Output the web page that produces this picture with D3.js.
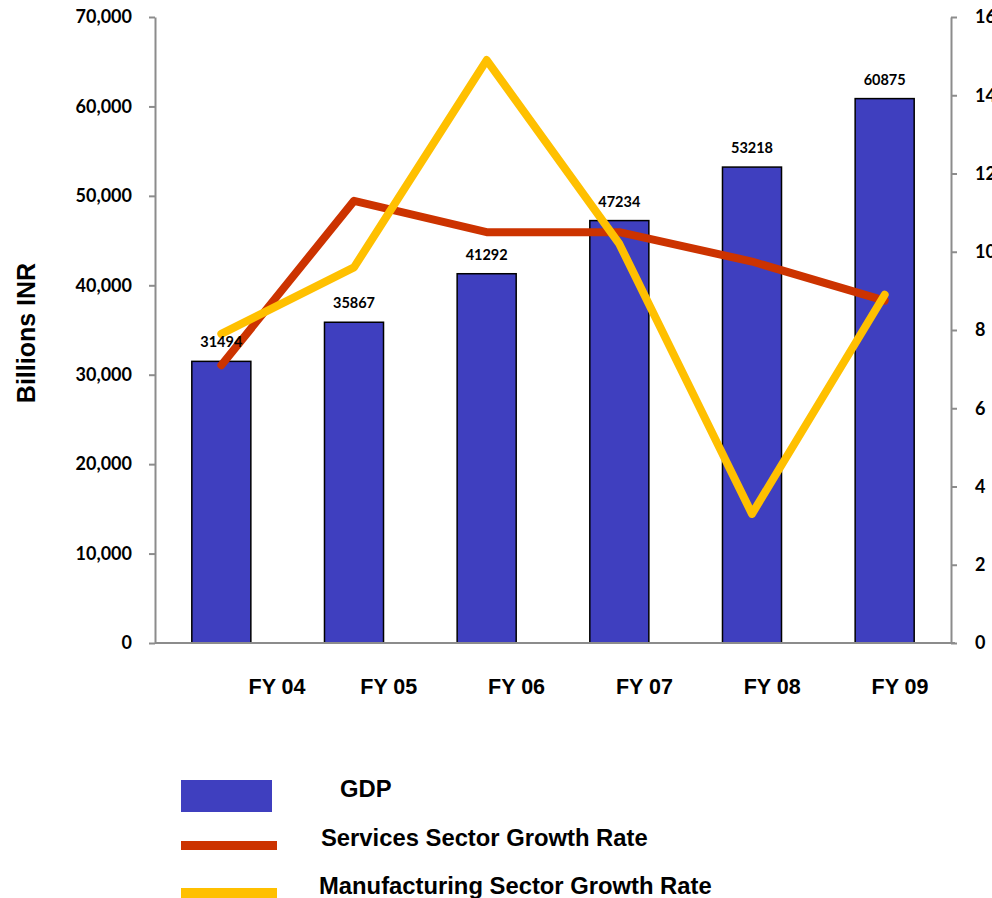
<!DOCTYPE html>
<html>
<head>
<meta charset="utf-8">
<script src="https://cdn.jsdelivr.net/npm/d3@7"></script>
<style>
  html, body { margin: 0; padding: 0; background: #fff; }
  svg { display: block; }
</style>
</head>
<body>
<svg id="chart" width="992" height="898"></svg>
<script>
const categories = ["FY 04", "FY 05", "FY 06", "FY 07", "FY 08", "FY 09"];
const gdp = [31494, 35867, 41292, 47234, 53218, 60875];
const services = [7.1, 11.3, 10.5, 10.5, 9.75, 8.75];
const manufacturing = [7.9, 9.6, 14.9, 10.2, 3.3, 8.9];
const leftTicks = [0, 10000, 20000, 30000, 40000, 50000, 60000, 70000];
const rightTicks = [0, 2, 4, 6, 8, 10, 12, 14, 16];
const legendItems = ["GDP", "Services Sector Growth Rate", "Manufacturing Sector Growth Rate"];

const colors = { bar: "#3f3fbf", services: "#cc3300", manufacturing: "#ffc000", axis: "#8c8c8c" };
const numFont = "Lato, 'Open Sans', sans-serif";
const txtFont = "'Liberation Sans', Arial, sans-serif";

const svg = d3.select("#chart");
const plot = { left: 155, right: 951, top: 17, bottom: 643 };

const x = d3.scaleBand().domain(categories).range([plot.left, plot.right])
  .paddingInner(0.555).paddingOuter(0.2775);
const xLabel = d3.scalePoint().domain(categories).range([261, 900]);
const yL = d3.scaleLinear().domain([0, 70000]).range([plot.bottom, plot.top]);
const yR = d3.scaleLinear().domain([0, 16]).range([plot.bottom, plot.top]);

// Left axis
const gL = svg.append("g").attr("transform", `translate(${plot.left},0)`)
  .call(d3.axisLeft(yL).tickValues(leftTicks).tickSize(6).tickPadding(17).tickFormat(d3.format(",")).tickSizeOuter(0));
gL.select(".domain").attr("stroke", colors.axis).attr("stroke-width", 2);
gL.selectAll(".tick line").attr("stroke", colors.axis).attr("stroke-width", 2);
gL.selectAll(".tick text").attr("font-family", numFont).attr("font-weight", "bold")
  .attr("font-size", 18).attr("fill", "#000");

// Right axis
const gR = svg.append("g").attr("transform", `translate(${plot.right},0)`)
  .call(d3.axisRight(yR).tickValues(rightTicks).tickSize(6).tickPadding(18).tickSizeOuter(0));
gR.select(".domain").attr("stroke", colors.axis).attr("stroke-width", 2);
gR.selectAll(".tick line").attr("stroke", colors.axis).attr("stroke-width", 2);
gR.selectAll(".tick text").attr("font-family", numFont).attr("font-weight", "bold")
  .attr("font-size", 18).attr("fill", "#000");

// Bars
svg.append("g").selectAll("rect").data(gdp).join("rect")
  .attr("x", (d, i) => x(categories[i]))
  .attr("y", d => yL(d))
  .attr("width", x.bandwidth())
  .attr("height", d => yL(0) - yL(d))
  .attr("fill", colors.bar)
  .attr("stroke", "#000").attr("stroke-width", 1.5);

// Bottom axis line
svg.append("line")
  .attr("x1", plot.left).attr("x2", plot.right + 4)
  .attr("y1", yL(0)).attr("y2", yL(0))
  .attr("stroke", colors.axis).attr("stroke-width", 2);

// X labels (first label sits a little further right in the original)
svg.append("g").selectAll("text").data(categories).join("text")
  .attr("x", d => xLabel(d))
  .attr("dx", (d, i) => i === 0 ? 16 : 0)
  .attr("y", 694)
  .attr("text-anchor", "middle")
  .attr("font-family", txtFont).attr("font-weight", "bold").attr("font-size", 21.5)
  .attr("fill", "#000")
  .text(d => d);

// Lines
const cx = (i) => x(categories[i]) + x.bandwidth() / 2;
const line = d3.line().x((d, i) => cx(i)).y(d => yR(d));
svg.append("path").datum(services).attr("d", line)
  .attr("fill", "none").attr("stroke", colors.services).attr("stroke-width", 8)
  .attr("stroke-linejoin", "round").attr("stroke-linecap", "round");
svg.append("path").datum(manufacturing).attr("d", line)
  .attr("fill", "none").attr("stroke", colors.manufacturing).attr("stroke-width", 8)
  .attr("stroke-linejoin", "round").attr("stroke-linecap", "round");

// Data labels (on top of lines)
svg.append("g").selectAll("text").data(gdp).join("text")
  .attr("x", (d, i) => x(categories[i]) + x.bandwidth() / 2)
  .attr("y", d => yL(d) - 14)
  .attr("text-anchor", "middle")
  .attr("font-family", numFont).attr("font-weight", "bold").attr("font-size", 14.5)
  .attr("fill", "#000")
  .text(d => d);

// Y title
svg.append("text")
  .attr("transform", "translate(35,333) rotate(-90)")
  .attr("text-anchor", "middle")
  .attr("font-family", txtFont).attr("font-weight", "bold").attr("font-size", 25)
  .attr("fill", "#000")
  .text("Billions INR");

// Legend
const lg = svg.append("g");
lg.append("rect").attr("x", 181).attr("y", 780).attr("width", 91).attr("height", 32).attr("fill", colors.bar);
lg.append("rect").attr("x", 181).attr("y", 841).attr("width", 96).attr("height", 9).attr("fill", colors.services);
lg.append("rect").attr("x", 181).attr("y", 888).attr("width", 96).attr("height", 10).attr("fill", colors.manufacturing);
const legendPos = [[340, 797], [321, 846], [319, 894]];
lg.selectAll("text").data(legendItems).join("text")
  .attr("x", (d, i) => legendPos[i][0])
  .attr("y", (d, i) => legendPos[i][1])
  .attr("font-family", txtFont).attr("font-weight", "bold").attr("font-size", 23.8)
  .attr("fill", "#000")
  .text(d => d);
</script>
</body>
</html>
